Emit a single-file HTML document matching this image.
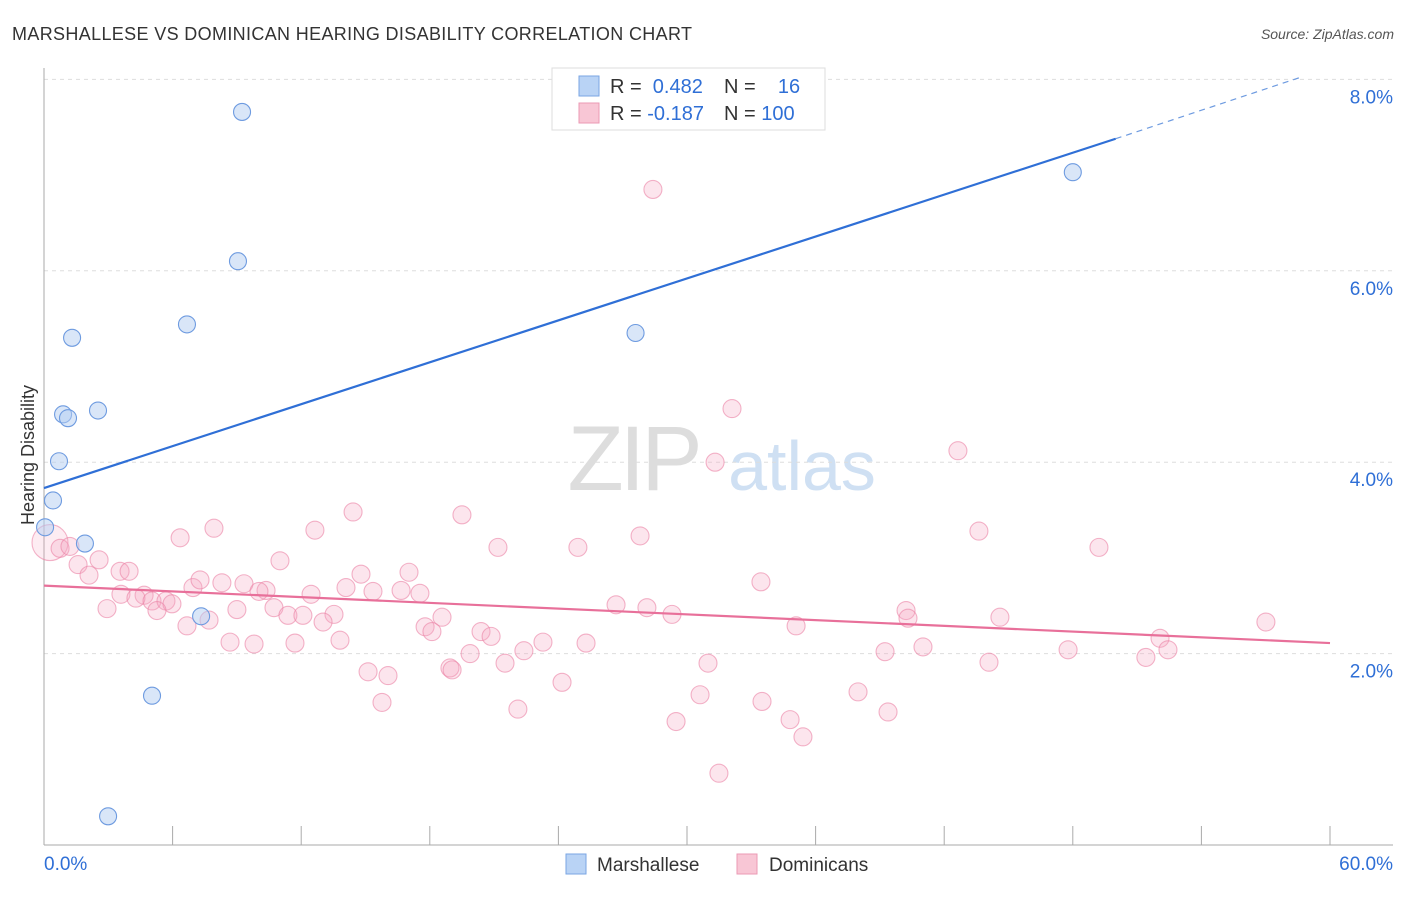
<!DOCTYPE html>
<html><head><meta charset="utf-8"><style>
body{margin:0;background:#fff;font-family:"Liberation Sans",sans-serif;}
svg text{font-family:"Liberation Sans",sans-serif;}
</style></head><body>
<svg id="chart" width="1406" height="892" viewBox="0 0 1406 892">
<text x="12" y="40" font-size="18" fill="#333" textLength="680">MARSHALLESE VS DOMINICAN HEARING DISABILITY CORRELATION CHART</text>
<text x="1394" y="39" font-size="14" fill="#555" font-style="italic" text-anchor="end">Source: ZipAtlas.com</text>
<g>
<text x="633" y="490" font-size="92" fill="#ddd" font-family="Liberation Serif" text-anchor="middle" letter-spacing="-4">ZIP</text>
<text x="802" y="490" font-size="70" fill="#cfe0f3" text-anchor="middle">atlas</text>
</g>
<g id="grid"></g>
<g id="axes"></g>
<g id="pink"></g>
<g id="blue"></g>
<g id="lines"></g>
<g>
<rect x="552" y="68" width="273" height="62" fill="#fff" stroke="#ddd"/>
<rect x="579" y="76" width="20" height="20" fill="#b9d3f5" stroke="#7aa6e3"/>
<rect x="579" y="103" width="20" height="20" fill="#f8c6d5" stroke="#eb9ab4"/>
<text x="610" y="93" font-size="20" fill="#333">R = <tspan fill="#2f6fd6">&#160;0.482</tspan></text>
<text x="724" y="93" font-size="20" fill="#333">N = <tspan fill="#2f6fd6">&#160;&#160;&#160;16</tspan></text>
<text x="610" y="120" font-size="20" fill="#333">R = <tspan fill="#2f6fd6">-0.187</tspan></text>
<text x="724" y="120" font-size="20" fill="#333">N = <tspan fill="#2f6fd6">100</tspan></text>
</g>
<g>
<rect x="566" y="854" width="20" height="20" fill="#b9d3f5" stroke="#7aa6e3"/>
<text x="597" y="871" font-size="19" fill="#333">Marshallese</text>
<rect x="737" y="854" width="20" height="20" fill="#f8c6d5" stroke="#eb9ab4"/>
<text x="769" y="871" font-size="19" fill="#333">Dominicans</text>
</g>
<text transform="translate(34,455) rotate(-90)" font-size="18" fill="#333" text-anchor="middle">Hearing Disability</text>
</svg>
<script>
const blueX=[9.24,9.05,6.67,1.31,27.6,48.0,0.89,1.12,2.52,0.70,0.42,0.05,1.91,7.33,5.04,2.99];
const blueY=[7.66,6.10,5.44,5.30,5.35,7.03,4.50,4.46,4.54,4.01,3.60,3.32,3.15,2.39,1.56,0.30];
const pinkX=[28.41,32.10,31.31,42.64,19.50,14.42,7.93,6.35,12.64,21.18,24.91,27.81,43.62,49.22,0.28,0.75,1.21,2.57,1.59,2.10,3.55,3.97,11.01,14.79,17.03,33.45,6.95,7.28,8.30,9.33,10.36,10.03,12.46,14.09,15.35,16.66,17.54,3.59,4.67,4.29,5.04,5.69,5.97,2.94,5.27,9.00,10.73,11.38,12.08,13.53,13.02,7.70,6.67,18.57,26.69,28.13,29.30,40.22,40.31,44.60,57.01,35.09,17.78,18.10,20.39,20.86,8.68,9.80,11.71,13.81,23.28,25.29,52.07,52.44,41.01,47.78,39.24,19.88,22.39,21.51,30.98,44.09,51.41,15.12,16.05,18.94,19.04,24.17,37.98,30.61,15.77,33.50,22.11,39.38,29.49,34.81,35.41,31.49];
const pinkY=[6.85,4.56,4.00,4.12,3.45,3.48,3.31,3.21,3.29,3.11,3.11,3.23,3.28,3.11,3.16,3.10,3.12,2.98,2.93,2.82,2.86,2.86,2.97,2.83,2.85,2.75,2.69,2.77,2.74,2.73,2.66,2.65,2.62,2.69,2.65,2.66,2.63,2.62,2.61,2.58,2.55,2.55,2.52,2.47,2.45,2.46,2.48,2.40,2.40,2.41,2.33,2.35,2.29,2.38,2.51,2.48,2.41,2.45,2.37,2.38,2.33,2.29,2.28,2.23,2.23,2.18,2.12,2.10,2.11,2.14,2.12,2.11,2.16,2.04,2.07,2.04,2.02,2.00,2.03,1.90,1.90,1.91,1.96,1.81,1.77,1.85,1.83,1.70,1.60,1.57,1.49,1.50,1.42,1.39,1.29,1.31,1.13,0.75];
const yTicks=[2,4,6,8];
const yTickLabels=["2.0%","4.0%","6.0%","8.0%"];
const xTickLabels=["0.0%","60.0%"];
const blueTrend=[3.73,7.38,8.02];
const blueTrendX=[0,50,58.6];
const pinkTrend=[2.71,2.11];

const X=v=>44+v/60*1286, Y=v=>845-v*95.7;
const NS="http://www.w3.org/2000/svg";
function mk(tag,attrs,parent){const e=document.createElementNS(NS,tag);for(const k in attrs)e.setAttribute(k,attrs[k]);document.getElementById(parent).appendChild(e);return e;}
yTicks.forEach((t,i)=>{
 const g=mk('line',{x1:44,x2:1393,y1:Y(t),y2:Y(t),stroke:'#ddd','stroke-dasharray':'4,4'},'grid');
 
 
 const l=mk('text',{x:1393,y:Y(t)+24,'font-size':19,fill:'#2f6fd6','text-anchor':'end'},'axes');
 l.textContent=yTickLabels[i];
 
 
});
let a=mk('line',{x1:44,x2:44,y1:68,y2:845,stroke:'#aaa'},'axes');


a=mk('line',{x1:44,x2:1393,y1:845,y2:845,stroke:'#aaa'},'axes');


for(let i=1;i<=10;i++){const t=mk('line',{x1:X(i*6),x2:X(i*6),y1:826,y2:845,stroke:'#aaa'},'axes');
 
 }
let t1=mk('text',{x:44,y:870,'font-size':19,fill:'#2f6fd6'},'axes');t1.textContent=xTickLabels[0];


let t2=mk('text',{x:1393,y:870,'font-size':19,fill:'#2f6fd6','text-anchor':'end'},'axes');t2.textContent=xTickLabels[1];


pinkX.forEach((x,i)=>{const c=mk('circle',{cx:X(x),cy:Y(pinkY[i]),r:(i==14?18:9),fill:(i==14?'rgba(244,170,195,0.22)':'rgba(244,170,195,0.3)'),stroke:'rgba(235,130,165,0.6)','stroke-width':1.1},'pink');
 
 });
blueX.forEach((x,i)=>{const c=mk('circle',{cx:X(x),cy:Y(blueY[i]),r:8.5,fill:'rgba(180,205,242,0.5)',stroke:'#6e9be0','stroke-width':1.1},'blue');
 
 });
let l1=mk('line',{x1:X(blueTrendX[0]),y1:Y(blueTrend[0]),x2:X(blueTrendX[1]),y2:Y(blueTrend[1]),stroke:'#2f6fd6','stroke-width':2.2},'lines');


let l2=mk('line',{x1:X(blueTrendX[1]),y1:Y(blueTrend[1]),x2:X(blueTrendX[2]),y2:Y(blueTrend[2]),stroke:'#6e9be0','stroke-width':1.2,'stroke-dasharray':'6,5'},'lines');


let l3=mk('line',{x1:X(0),y1:Y(pinkTrend[0]),x2:X(60),y2:Y(pinkTrend[1]),stroke:'#e8709a','stroke-width':2.2},'lines');


</script>
</body></html>
